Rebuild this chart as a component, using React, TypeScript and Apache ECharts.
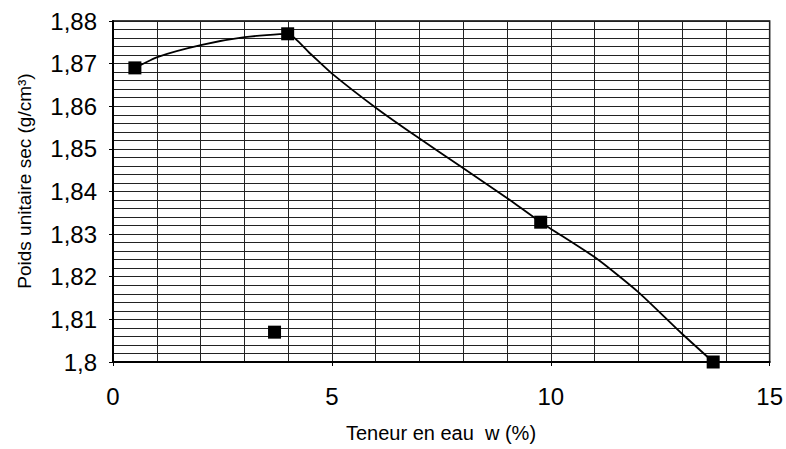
import React, { useEffect, useRef } from "react";
import * as echarts from "echarts";

// measured points (markers)
const measuredW = [0.5, 3.99, 9.77, 13.71];
const measuredDensity = [1.869, 1.877, 1.8328, 1.8];
const isolatedW = [3.69];
const isolatedDensity = [1.807];
// drawn trend curve
const curveW = [0.5, 1.03, 2.03, 3.01, 3.99, 4.49, 5.01, 6.01, 6.92, 7.97, 9.04, 9.77, 11.03, 12.0, 12.98, 13.71];
const curveDensity = [1.869, 1.8716, 1.8744, 1.8762, 1.877, 1.8725, 1.8676, 1.8596, 1.853, 1.8457, 1.8382, 1.8328, 1.8244, 1.8164, 1.8068, 1.8];
const xTicks = [0, 5, 10, 15];
const yTicks = [1.8, 1.81, 1.82, 1.83, 1.84, 1.85, 1.86, 1.87, 1.88];
const xTitle = "Teneur en eau  w (%)";
const yTitle = "Poids unitaire sec (g/cm³)";

const fmtY = (v: number) => {
  const s = (Math.round(v * 100) / 100).toFixed(2).replace(/0+$/, "").replace(/\.$/, "");
  return s.replace(".", ",");
};

export default function App() {
  const ref = useRef<HTMLDivElement>(null);
  useEffect(() => {
    if (!ref.current) return;
    const chart = echarts.init(ref.current, null, { renderer: "svg" });
    const font = "'Liberation Sans', Arial, sans-serif";
    chart.setOption({
      animation: false,
      backgroundColor: "#fff",
      grid: { left: 113, right: 15, top: 21, bottom: 87, show: true, borderColor: "#000", borderWidth: 1.5 },
      xAxis: {
        type: "value",
        min: xTicks[0],
        max: xTicks[xTicks.length - 1],
        interval: 5,
        axisLine: { show: true, onZero: false, lineStyle: { color: "#000", width: 2 } },
        axisTick: { show: true, length: 4, lineStyle: { color: "#000" } },
        axisLabel: { color: "#000", fontSize: 24, fontFamily: font, margin: 22 },
        splitLine: { show: true, lineStyle: { color: "#222", width: 1 } },
        minorTick: { show: false, splitNumber: 5 },
        minorSplitLine: { show: true, lineStyle: { color: "#222", width: 1 } },
      },
      yAxis: {
        type: "value",
        min: yTicks[0],
        max: yTicks[yTicks.length - 1],
        interval: 0.01,
        axisLine: { show: true, onZero: false, lineStyle: { color: "#000", width: 2 } },
        axisTick: { show: true, length: 4, lineStyle: { color: "#000" } },
        axisLabel: { color: "#000", fontSize: 24, fontFamily: font, margin: 16, formatter: fmtY },
        splitLine: { show: true, lineStyle: { color: "#222", width: 1 } },
        minorTick: { show: false, splitNumber: 5 },
        minorSplitLine: { show: true, lineStyle: { color: "#222", width: 1 } },
      },
      graphic: [
        {
          type: "text",
          x: 441,
          y: 433,
          style: { text: xTitle, fill: "#000", font: `20px ${font}`, textAlign: "center", textVerticalAlign: "middle" },
        },
        {
          type: "text",
          x: 24,
          y: 181,
          rotation: Math.PI / 2,
          style: { text: yTitle, fill: "#000", font: `19px ${font}`, textAlign: "center", textVerticalAlign: "middle" },
        },
      ],
      series: [
        {
          type: "line",
          data: curveW.map((w, i) => [w, curveDensity[i]]),
          smooth: 0.2,
          showSymbol: false,
          symbol: "none",
          lineStyle: { color: "#000", width: 1.8 },
          z: 3,
        },
        {
          type: "scatter",
          data: measuredW.map((w, i) => [w, measuredDensity[i]]),
          symbol: "rect",
          symbolSize: 13,
          itemStyle: { color: "#000", opacity: 1 },
          z: 4,
        },
        {
          type: "scatter",
          data: isolatedW.map((w, i) => [w, isolatedDensity[i]]),
          symbol: "rect",
          symbolSize: 13,
          itemStyle: { color: "#000", opacity: 1 },
          z: 4,
        },
      ],
    });
    return () => chart.dispose();
  }, []);
  return <div ref={ref} style={{ width: 786, height: 449, position: "absolute", left: 0, top: 0 }} />;
}
